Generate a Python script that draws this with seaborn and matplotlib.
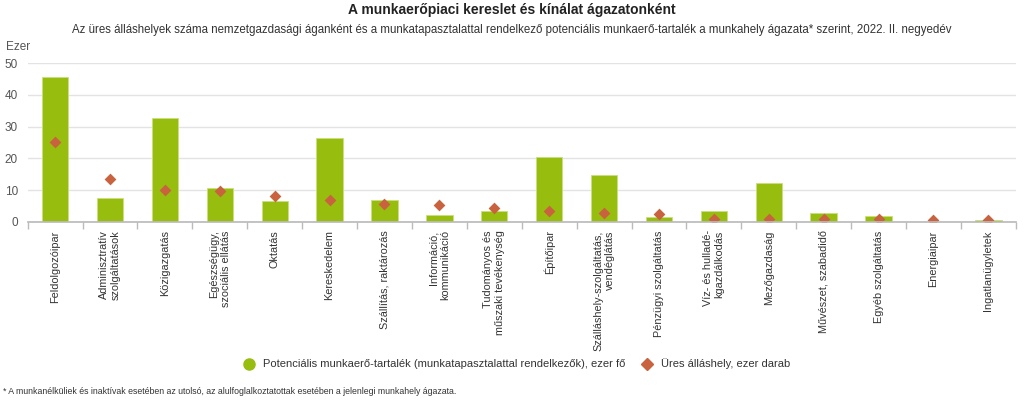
import numpy as np
import pandas as pd
import matplotlib.pyplot as plt
import seaborn as sns
from matplotlib.lines import Line2D

# Ágazatok (nemzetgazdasági ágak)
agazatok = [
    'Feldolgozóipar', 'Adminisztratív\nszolgáltatások', 'Közigazgatás',
    'Egészségügy,\nszociális ellátás', 'Oktatás', 'Kereskedelem',
    'Szállítás, raktározás', 'Információ,\nkommunikáció',
    'Tudományos és\nműszaki tevékenység', 'Építőipar',
    'Szálláshely-szolgáltatás,\nvendéglátás', 'Pénzügyi szolgáltatás',
    'Víz- és hulladé-\nkgazdálkodás', 'Mezőgazdaság', 'Művészet, szabadidő',
    'Egyéb szolgáltatás', 'Energiaipar', 'Ingatlanügyletek',
]
# Potenciális munkaerő-tartalék, ezer fő
tartalek = [45.7, 7.6, 32.7, 10.6, 6.6, 26.3, 6.9, 2.1, 3.6, 20.5,
            14.7, 1.6, 3.6, 12.4, 2.8, 1.8, 0.0, 0.6]
# Üres álláshely, ezer darab
ures = [25.1, 13.5, 10.0, 9.7, 8.2, 6.9, 5.7, 5.4, 4.4, 3.4,
        2.7, 2.4, 1.1, 1.1, 0.9, 0.8, 0.7, 0.7]

yticks = [0, 10, 20, 30, 40, 50]

green = '#97bd0f'
red = '#c9633f'
gray_text = '#555555'

df = pd.DataFrame({'ag': agazatok, 'tartalek': tartalek, 'ures': ures})

sns.set_theme(style='white')
plt.rcParams['font.family'] = ['Liberation Sans', 'DejaVu Sans']

fig = plt.figure(figsize=(10.24, 4.0), dpi=100)
ax = fig.add_axes([0.027, 0.445, 0.965, 0.3975])

sns.barplot(data=df, x='ag', y='tartalek', color=green, width=0.48,
            saturation=1, edgecolor='#c8e07a', linewidth=0.6, ax=ax, zorder=2)
sns.stripplot(data=df, x='ag', y='ures', color=red, marker='D', size=6,
              jitter=False, linewidth=0, ax=ax, zorder=3)

ax.set_xlim(-0.5, len(agazatok) - 0.5)
ax.set_ylim(0, 50)
ax.set_yticks(yticks)
ax.set_xlabel('')
ax.set_ylabel('')
ax.grid(axis='y', color='#e3e3e3', linewidth=1, zorder=0)
for side in ['top', 'right', 'left']:
    ax.spines[side].set_visible(False)
ax.spines['bottom'].set_color('#bbbbbb')
ax.spines['bottom'].set_zorder(4)

# Tick marks between categories, labels at the centres
ax.set_xticks(np.arange(-0.5, len(agazatok), 1), minor=True)
ax.tick_params(axis='x', which='minor', length=5, color='#bbbbbb', bottom=True)
ax.tick_params(axis='x', which='major', length=0, pad=6)
ax.set_xticks(range(len(agazatok)))
ax.set_xticklabels(agazatok, rotation=90, fontsize=7.8, color='#333333',
                   va='top', ha='center', multialignment='right')
ax.tick_params(axis='y', length=0, labelsize=8.5, labelcolor=gray_text, pad=7)
ax.text(-0.022, 1.06, 'Ezer', transform=ax.transAxes, fontsize=8.5,
        color=gray_text, ha='left', va='bottom')

fig.text(0.5, 0.975, 'A munkaerőpiaci kereslet és kínálat ágazatonként',
         ha='center', va='center', fontsize=10, fontweight='bold', color='#222222')
fig.text(0.5, 0.925,
         'Az üres álláshelyek száma nemzetgazdasági áganként és a munkatapasztalattal '
         'rendelkező potenciális munkaerő-tartalék a munkahely ágazata* szerint, 2022. II. negyedév',
         ha='center', va='center', fontsize=8.3, color='#333333')

handles = [
    Line2D([], [], marker='o', linestyle='', color=green, markersize=8,
           label='Potenciális munkaerő-tartalék (munkatapasztalattal rendelkezők), ezer fő'),
    Line2D([], [], marker='D', linestyle='', color=red, markersize=6,
           label='Üres álláshely, ezer darab'),
]
fig.legend(handles=handles, loc='center', bbox_to_anchor=(0.502, 0.09), ncol=2,
           frameon=False, fontsize=8.0, handletextpad=0.3, columnspacing=0.9,
           labelcolor='#333333')

fig.text(0.003, 0.022,
         '* A munkanélküliek és inaktívak esetében az utolsó, az alulfoglalkoztatottak '
         'esetében a jelenlegi munkahely ágazata.',
         ha='left', va='center', fontsize=6.3, color='#333333')

fig.savefig('out.png', dpi=100)
